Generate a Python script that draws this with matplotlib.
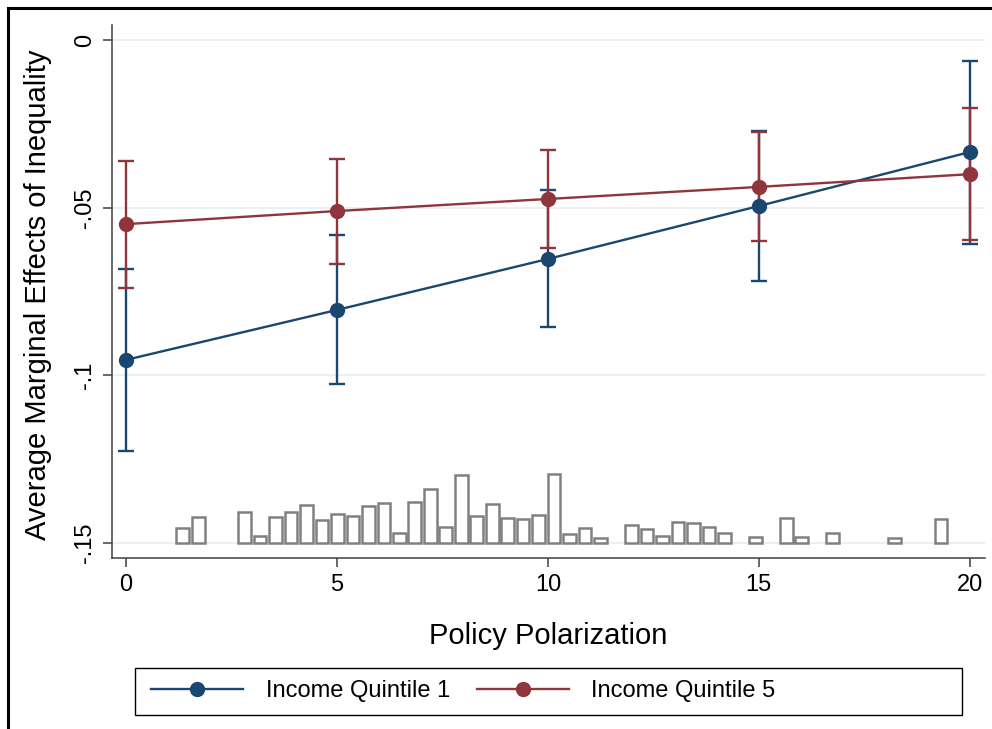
import numpy as np
import matplotlib
matplotlib.use("Agg")
import matplotlib.pyplot as plt
from matplotlib.lines import Line2D
from matplotlib.patches import Rectangle

plt.rcParams['font.family'] = ['Liberation Sans', 'DejaVu Sans']

# marginal effects at each polarization level
polar = [0, 5, 10, 15, 20]
q1_est = [-0.0954, -0.0805, -0.0653, -0.0495, -0.0334]
q1_lo = [-0.1226, -0.1026, -0.0856, -0.0719, -0.0608]
q1_hi = [-0.0683, -0.0582, -0.0447, -0.0271, -0.0063]
q5_est = [-0.0549, -0.0510, -0.0474, -0.0438, -0.0400]
q5_lo = [-0.0740, -0.0668, -0.0620, -0.0599, -0.0596]
q5_hi = [-0.0361, -0.0355, -0.0328, -0.0274, -0.0203]

# histogram of polarization (50 bins), heights in thousandths of the y scale
hist_min = 1.16
hist_max = 19.5
hist_h = [4.4, 7.8, 0, 0, 9.3, 2.2, 7.8, 9.3, 11.4, 6.9,
          8.6, 8.1, 11.0, 12.0, 2.9, 12.3, 16.0, 4.7, 20.3, 8.1,
          11.5, 7.5, 7.1, 8.4, 20.6, 2.6, 4.4, 1.4, 0, 5.4,
          4.1, 2.2, 6.2, 5.9, 4.7, 2.9, 0, 1.9, 0, 7.5,
          1.7, 0, 3.1, 0, 0, 0, 1.6, 0, 0, 7.2]
hist_base = -0.15

blue = '#1a476f'
red = '#90353b'

fig = plt.figure(figsize=(9.92, 7.29), dpi=100)
ax = fig.add_axes([112/992, 1-558/729, 873/992, 533/729])

# histogram
edges = np.linspace(hist_min, hist_max, len(hist_h) + 1)
centers = (edges[:-1] + edges[1:]) / 2
bw = edges[1] - edges[0]
h = np.array(hist_h) / 1000
keep = h > 0
ax.bar(centers[keep], h[keep], width=0.82*bw, bottom=hist_base,
       facecolor='white', edgecolor='#808080', linewidth=1.8, zorder=2)

# error bars and lines
for est, lo, hi, col in [(q1_est, q1_lo, q1_hi, blue), (q5_est, q5_lo, q5_hi, red)]:
    est = np.array(est)
    yerr = [est - np.array(lo), np.array(hi) - est]
    ax.errorbar(polar, est, yerr=yerr, fmt='none', ecolor=col, elinewidth=1.7,
                capsize=6, capthick=1.7, zorder=3)
    ax.plot(polar, est, color=col, lw=1.7, marker='o', markersize=10,
            markerfacecolor=col, markeredgecolor=col, zorder=4)

ax.set_xlim(-0.332, 20.36)
ax.set_ylim(-0.1545, 0.0045)
ax.set_xticks([0, 5, 10, 15, 20])
ax.set_xticklabels(['0', '5', '10', '15', '20'])
ax.set_yticks([0, -0.05, -0.1, -0.15])
ax.set_yticklabels(['0', '-.05', '-.1', '-.15'], rotation=90, va='center')
ax.tick_params(axis='both', labelsize=17, color='#404040', width=1.1, length=6.5)
ax.tick_params(axis='y', pad=5)
ax.tick_params(axis='x', pad=5)
ax.yaxis.grid(True, color='#e6eff1', lw=1.2, zorder=0)
ax.set_axisbelow(True)
for s in ['top', 'right']:
    ax.spines[s].set_visible(False)
for s in ['left', 'bottom']:
    ax.spines[s].set_color('#404040')
    ax.spines[s].set_linewidth(1.1)

ax.set_xlabel('Policy Polarization', fontsize=21)
ax.xaxis.label.set_va('center')
ax.xaxis.set_label_coords(0.5, -0.146)
ax.set_ylabel('Average Marginal Effects of Inequality', fontsize=21)
ax.yaxis.label.set_va('center')
ax.yaxis.set_label_coords(-0.0848, 0.4934)

# legend
handles = [Line2D([], [], color=blue, lw=1.7, marker='o', markersize=10),
           Line2D([], [], color=red, lw=1.7, marker='o', markersize=10)]
fig.legend(handles, ['Income Quintile 1', 'Income Quintile 5'], ncol=2,
           loc='center left', bbox_to_anchor=(151/992, 1-691/729), frameon=False,
           fontsize=17, handlelength=3.9, handletextpad=0.95, columnspacing=1.15,
           borderpad=0, borderaxespad=0)
fig.add_artist(Rectangle((135/992, 1-715/729), 827/992, 47/729, transform=fig.transFigure,
                         fill=False, edgecolor='black', lw=1.0))

# outer frame
fig.add_artist(Line2D([8/992, 1], [1-8/729, 1-8/729], transform=fig.transFigure, color='black', lw=2.2))
fig.add_artist(Line2D([8/992, 8/992], [0, 1-8/729], transform=fig.transFigure, color='black', lw=2.2))

fig.savefig('out.png', dpi=100)
